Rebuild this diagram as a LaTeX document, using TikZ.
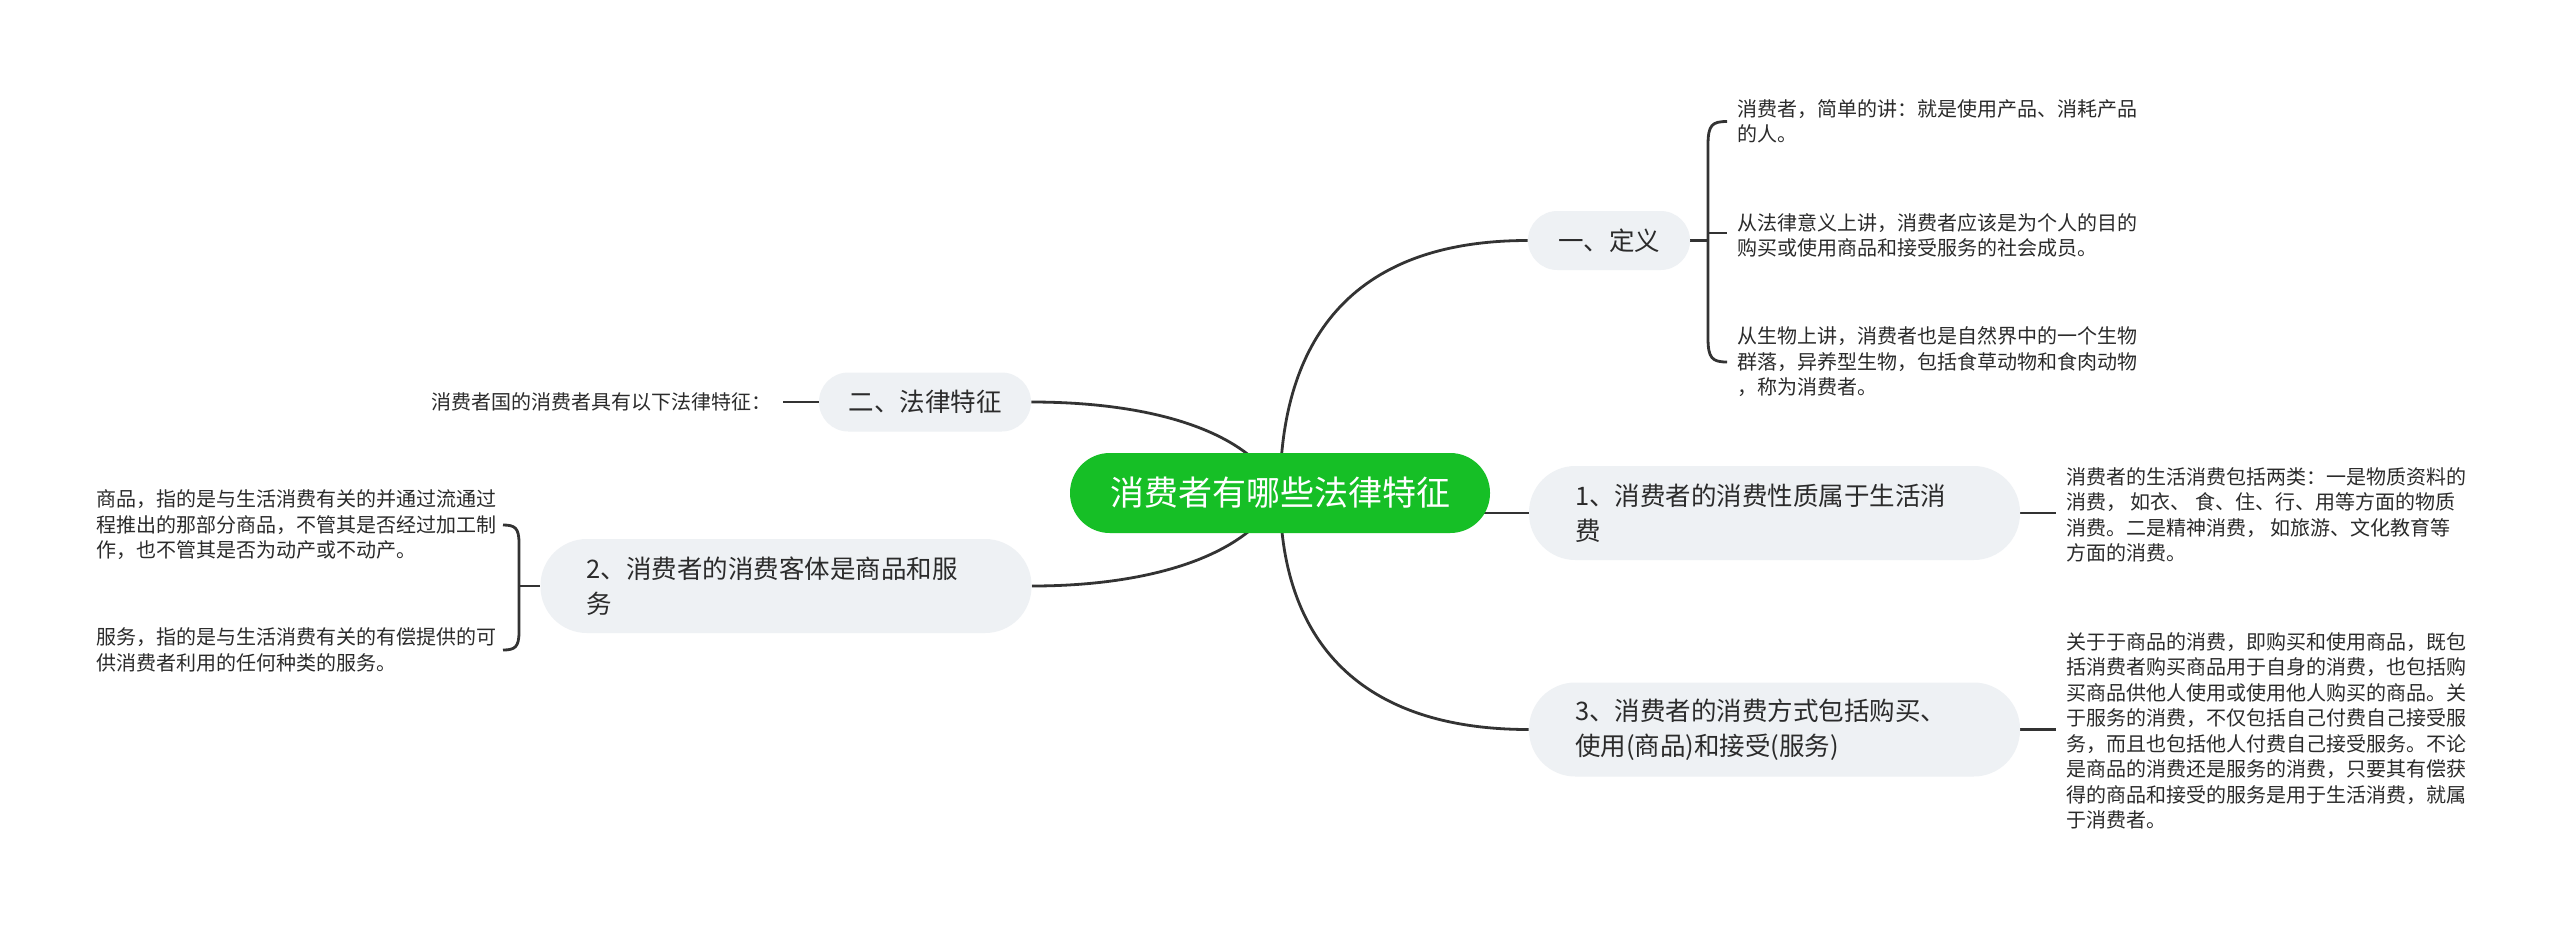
\documentclass[tikz,border=0pt]{standalone}
\usepackage{fontspec}
\setmainfont{Noto Sans CJK SC}
\definecolor{rootgreen}{HTML}{16BF26}
\definecolor{topicgray}{HTML}{EEF1F4}
\definecolor{linegray}{HTML}{333333}
\definecolor{textgray}{HTML}{2B2B2B}
\pgfdeclarelayer{bglayer}
\pgfdeclarelayer{linelayer}
\pgfsetlayers{bglayer,linelayer,main}
\begin{document}
\begin{tikzpicture}[x=0.5pt,y=-0.5pt,
  conn/.style={draw=linegray,line width=1.4pt},
  leaf/.style={inner sep=0pt,align=left,font=\fontsize{10pt}{12.75pt}\selectfont,text=textgray,anchor=west},
  topic/.style={fill=topicgray,inner sep=0pt,font=\fontsize{12.75pt}{17.5pt}\selectfont,text=textgray},
  topicsmall/.style={topic,minimum height=29.5pt,rounded corners=14.7pt},
  topicwide/.style={topic,text width=199.5pt,align=left,inner xsep=23pt,minimum height=47pt,rounded corners=23.2pt},
  rootnode/.style={fill=rootgreen,text=white,inner sep=0pt,minimum width=210pt,minimum height=40pt,rounded corners=19.9pt,font=\fontsize{17pt}{20pt}\selectfont}
]
\useasboundingbox (0,0) rectangle (2560,927);
\begin{pgfonlayer}{bglayer}
\fill[white] (0,0) rectangle (2560,927);
\end{pgfonlayer}

% main topics
\node[rootnode] (root) at (1280,493) {消费者有哪些法律特征};
\node[topicsmall,minimum width=81pt] (ding) at (1609,240.5) {一、定义};
\node[topicsmall,minimum width=106pt] (fa) at (925,402) {二、法律特征};
\node[topicwide] (n2) at (786,586) {2、消费者的消费客体是商品和服\\务};
\node[topicwide] (n1) at (1774.5,513) {1、消费者的消费性质属于生活消\\费};
\node[topicwide] (n3) at (1774.5,729.5) {3、消费者的消费方式包括购买、\\使用(商品)和接受(服务)};

% leaves
\node[leaf] (a1) at (1737,121.5) {消费者，简单的讲：就是使用产品、消耗产品\\的人。};
\node[leaf] (a2) at (1737,235.5) {从法律意义上讲，消费者应该是为个人的目的\\购买或使用商品和接受服务的社会成员。};
\node[leaf] (a3) at (1737,362) {从生物上讲，消费者也是自然界中的一个生物\\群落，异养型生物，包括食草动物和食肉动物\\，称为消费者。};
\node[leaf,anchor=east] (b) at (772,402) {消费者国的消费者具有以下法律特征：};
\node[leaf] (c1) at (96,525) {商品，指的是与生活消费有关的并通过流通过\\程推出的那部分商品，不管其是否经过加工制\\作，也不管其是否为动产或不动产。};
\node[leaf] (c2) at (96,650) {服务，指的是与生活消费有关的有偿提供的可\\供消费者利用的任何种类的服务。};
\node[leaf] (d1) at (2066,515) {消费者的生活消费包括两类：一是物质资料的\\消费， 如衣、 食、住、行、用等方面的物质\\消费。二是精神消费， 如旅游、文化教育等\\方面的消费。};
\node[leaf] (d3) at (2066,731) {关于于商品的消费，即购买和使用商品，既包\\括消费者购买商品用于自身的消费，也包括购\\买商品供他人使用或使用他人购买的商品。关\\于服务的消费，不仅包括自己付费自己接受服\\务，而且也包括他人付费自己接受服务。不论\\是商品的消费还是服务的消费，只要其有偿获\\得的商品和接受的服务是用于生活消费，就属\\于消费者。};

% bracket coordinates
\coordinate (dsp) at (1708,240.5);
\coordinate (dtop) at (1727,121.5);
\coordinate (dtopv) at (1708,145);
\coordinate (dbotv) at (1708,338);
\coordinate (dbot) at (1727,362);
\coordinate (dmidl) at (1708,233);
\coordinate (dmid) at (1727,233);
\coordinate (csp) at (519,586);
\coordinate (ctop) at (503,525);
\coordinate (ctopv) at (519,543);
\coordinate (cbotv) at (519,632);
\coordinate (cbot) at (503,650);

\begin{pgfonlayer}{linelayer}
\draw[conn] (root.center) .. controls +(0,-163) and +(-167,0) .. (ding.west);
\draw[conn] (root.center) .. controls +(0,150) and +(-167,0) .. (n3.west);
\draw[conn] (root.center |- n1.west) -- (n1.west);
\draw[conn] (root.center) .. controls +(-30,-63) and +(118,0) .. (fa.east);
\draw[conn] (root.center) .. controls +(-30,63) and +(118,0) .. (n2.east);
% definition bracket
\draw[conn] (ding.east) -- (dsp);
\draw[conn] (dtop) .. controls +(-15,0) and +(0,-20) .. (dtopv) -- (dbotv) .. controls +(0,20) and +(-15,0) .. (dbot);
\draw[conn] (dmidl) -- (dmid);
% legal feature
\draw[conn] (fa.west) -- ([xshift=5.5pt]b.east);
% object bracket
\draw[conn] (n2.west) -- (csp);
\draw[conn] (ctop) .. controls +(12,0) and +(0,-15) .. (ctopv) -- (cbotv) .. controls +(0,15) and +(12,0) .. (cbot);
% right leaves
\draw[conn] (n1.east) -- ++(36,0);
\draw[conn] (n3.east) -- ++(36,0);
\end{pgfonlayer}
\end{tikzpicture}
\end{document}
